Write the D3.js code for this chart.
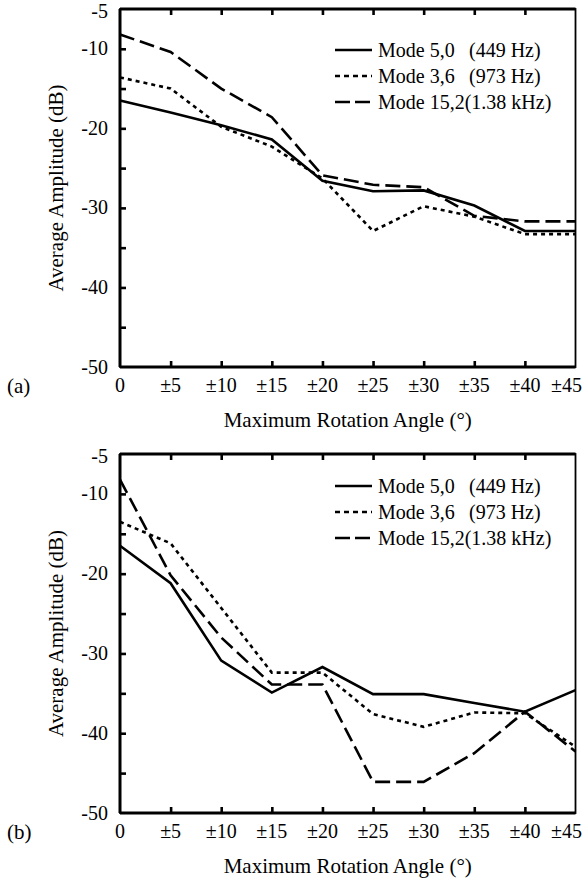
<!DOCTYPE html>
<html><head><meta charset="utf-8"><script src="https://cdn.jsdelivr.net/npm/d3@7"></script></head>
<body style="margin:0">
<svg id="chart" width="583" height="880"></svg>
<script>
// ---- Data ----
const angles = [0, 5, 10, 15, 20, 25, 30, 35, 40, 45];
const xTickLabels = ["0", "±5", "±10", "±15", "±20", "±25", "±30", "±35", "±40", "±45"];
const yTicks = [-5, -10, -20, -30, -40, -50];
const yMinorTicks = [-10, -15, -20, -25, -30, -35, -40, -45];
const seriesNames = ["Mode 5,0", "Mode 3,6", "Mode 15,2"];
const seriesFreqs = ["(449 Hz)", "(973 Hz)", "(1.38 kHz)"];

// Panel (a)
const a_mode50  = [-16.5, -18.0, -19.6, -21.4, -26.6, -27.9, -27.8, -29.7, -32.9, -32.9];
const a_mode36  = [-13.6, -15.0, -19.8, -22.3, -26.3, -32.9, -29.8, -31.1, -33.3, -33.3];
const a_mode152 = [-8.2, -10.4, -15.0, -18.6, -25.9, -27.1, -27.4, -31.0, -31.7, -31.7];

// Panel (b)
const b_mode50  = [-16.5, -21.2, -30.9, -34.9, -31.7, -35.1, -35.1, -36.2, -37.3, -34.6];
const b_mode36  = [-13.5, -16.2, -24.3, -32.4, -32.4, -37.6, -39.2, -37.4, -37.5, -41.7];
const b_mode152 = [-8.2, -20.2, -28.0, -33.9, -33.9, -46.1, -46.1, -42.5, -37.3, -42.3];

const dashStyles = [null, "4,4", "15,6"];
const legendDash = [null, "5,4", "15,5"];
const BASE = 24;

const svg = d3.select("#chart");

// text is specified at 24px and scaled down to the wanted size
function addText(x, y, size, str, anchor, rotate) {
  const s = size / BASE;
  const t = svg.append("text").attr("x", 0).attr("y", 0).attr("font-size", BASE)
    .style("font-family", '"Liberation Serif"')
    .attr("transform", `translate(${x},${y})${rotate ? " rotate(" + rotate + ")" : ""} scale(${s})`);
  if (anchor) t.attr("text-anchor", anchor);
  t.text(str);
  return t;
}

function panel(opts) {
  const { top, bottom, left, right, series, label, legendTop } = opts;
  const g = svg.append("g");
  const x = d3.scaleLinear().domain([0, 45]).range([left, right]);
  const y = d3.scaleLinear().domain([-50, -5]).range([bottom, top]);

  const line = d3.line().x((d, i) => x(angles[i])).y(d => y(d));
  series.forEach((s, k) => {
    g.append("path")
      .datum(s)
      .attr("d", line)
      .attr("fill", "none")
      .attr("stroke", "#000")
      .attr("stroke-width", 2.6)
      .attr("stroke-dasharray", dashStyles[k]);
  });

  // frame
  g.append("rect")
    .attr("x", left).attr("y", top)
    .attr("width", right - left).attr("height", bottom - top)
    .attr("fill", "none").attr("stroke", "#000").attr("stroke-width", 1.8);
  [[left, top, left, bottom], [left, bottom, right, bottom], [left, top, right, top]].forEach(c => {
    g.append("line").attr("x1", c[0]).attr("y1", c[1]).attr("x2", c[2]).attr("y2", c[3])
      .attr("stroke", "#000").attr("stroke-width", 3);
  });

  // y ticks (inward)
  const ya = g.append("g").attr("transform", `translate(${left},0)`)
    .call(d3.axisLeft(y).tickValues(yMinorTicks).tickSize(-6).tickFormat(""));
  ya.select(".domain").remove();
  ya.selectAll(".tick line").attr("stroke-width", 2.6);

  // x ticks bottom & top (inward)
  const xa = g.append("g").attr("transform", `translate(0,${bottom})`)
    .call(d3.axisBottom(x).tickValues(angles.slice(1, -1)).tickSize(-6).tickFormat(""));
  xa.select(".domain").remove();
  xa.selectAll(".tick line").attr("stroke-width", 2.6);
  const xt = g.append("g").attr("transform", `translate(0,${top})`)
    .call(d3.axisTop(x).tickValues(angles.slice(1, -1)).tickSize(-6).tickFormat(""));
  xt.select(".domain").remove();
  xt.selectAll(".tick line").attr("stroke-width", 2.6);

  // y labels
  yTicks.forEach(d => {
    addText(left - 12, y(d) + (d === -5 ? 9 : 6.6), 20, String(d), "end");
  });
  // x labels
  angles.forEach((d, i) => {
    if (d === 45) addText(582, bottom + 25, 20, xTickLabels[i], "end");
    else addText(x(d), bottom + 25, 20, xTickLabels[i], "middle");
  });

  // axis titles
  addText((left + right) / 2, bottom + 60, 21, "Maximum Rotation Angle (°)", "middle");
  addText(63, (top + bottom) / 2, 21, "Average Amplitude (dB)", "middle", -90);

  // panel label
  addText(7, bottom + 26, 21, label);

  // legend
  seriesNames.forEach((name, k) => {
    const cy = legendTop + k * 26;
    g.append("line").attr("x1", 335).attr("x2", 372).attr("y1", cy).attr("y2", cy)
      .attr("stroke", "#000").attr("stroke-width", 2.6)
      .attr("stroke-dasharray", legendDash[k]);
    const t = addText(378, cy + 7, 20, "");
    t.append("tspan").text(name);
    const f = t.append("tspan").text(seriesFreqs[k]);
    if (k < 2) f.attr("x", (469 - 378) * BASE / 20);
  });
}

panel({ top: 9, bottom: 367, left: 120, right: 575.5,
        series: [a_mode50, a_mode36, a_mode152], label: "(a)", legendTop: 50 });
panel({ top: 454, bottom: 813, left: 120, right: 575.5,
        series: [b_mode50, b_mode36, b_mode152], label: "(b)", legendTop: 486 });
</script>
</body>
</html>
